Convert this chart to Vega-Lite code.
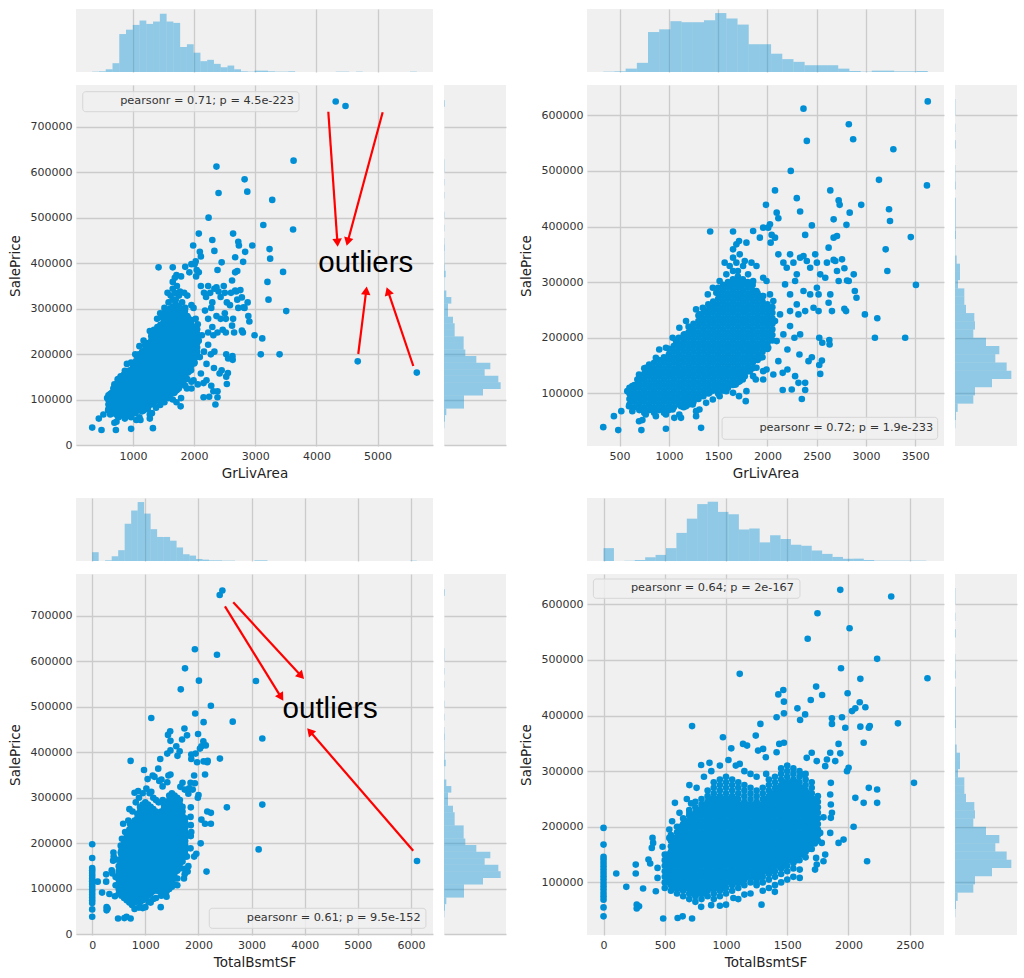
{
"$schema":"https://vega.github.io/schema/vega-lite/v6.json",
"padding":{"left":8,"top":9,"right":2,"bottom":2},
"background":"white",
"config":{
 "font":"DejaVu Sans",
 "view":{"fill":"#F0F0F0","stroke":null},
 "axis":{"domain":false,"ticks":false,"grid":true,"gridColor":"#CBCBCB","gridWidth":1.3,"labelFont":"DejaVu Sans","labelFontSize":11,"labelColor":"#333333","labelPadding":4,"labelFlush":false,"labelOverlap":false,"titleFont":"DejaVu Sans","titleFontSize":13.5,"titleFontWeight":"normal","titleColor":"#222222"},
 "axisX":{"titlePadding":5},
 "axisY":{"titlePadding":8}
},
"datasets":{
"grliv":[
{"sf":600,"price":80000},{"sf":600,"price":90000},{"sf":600,"price":100000},{"sf":600,"price":110000},
{"sf":650,"price":75000},{"sf":650,"price":85000},{"sf":650,"price":95000},{"sf":650,"price":105000},{"sf":650,"price":115000},
{"sf":700,"price":70000},{"sf":700,"price":80000},{"sf":700,"price":90000},{"sf":700,"price":100000},{"sf":700,"price":110000},{"sf":700,"price":120000},{"sf":700,"price":130000},
{"sf":750,"price":65000},{"sf":750,"price":75000},{"sf":750,"price":85000},{"sf":750,"price":95000},{"sf":750,"price":105000},{"sf":750,"price":115000},{"sf":750,"price":125000},{"sf":750,"price":135000},{"sf":750,"price":145000},
{"sf":800,"price":70000},{"sf":800,"price":80000},{"sf":800,"price":90000},{"sf":800,"price":100000},{"sf":800,"price":110000},{"sf":800,"price":120000},{"sf":800,"price":130000},{"sf":800,"price":140000},{"sf":800,"price":150000},
{"sf":850,"price":65000},{"sf":850,"price":75000},{"sf":850,"price":85000},{"sf":850,"price":95000},{"sf":850,"price":105000},{"sf":850,"price":115000},{"sf":850,"price":125000},{"sf":850,"price":135000},{"sf":850,"price":145000},{"sf":850,"price":155000},
{"sf":900,"price":70000},{"sf":900,"price":80000},{"sf":900,"price":90000},{"sf":900,"price":100000},{"sf":900,"price":110000},{"sf":900,"price":120000},{"sf":900,"price":130000},{"sf":900,"price":140000},{"sf":900,"price":150000},{"sf":900,"price":160000},
{"sf":950,"price":65000},{"sf":950,"price":75000},{"sf":950,"price":85000},{"sf":950,"price":95000},{"sf":950,"price":105000},{"sf":950,"price":115000},{"sf":950,"price":125000},{"sf":950,"price":135000},{"sf":950,"price":145000},{"sf":950,"price":155000},{"sf":950,"price":165000},
{"sf":1000,"price":70000},{"sf":1000,"price":80000},{"sf":1000,"price":90000},{"sf":1000,"price":100000},{"sf":1000,"price":110000},{"sf":1000,"price":120000},{"sf":1000,"price":130000},{"sf":1000,"price":140000},{"sf":1000,"price":150000},{"sf":1000,"price":160000},{"sf":1000,"price":170000},{"sf":1000,"price":180000},
{"sf":1050,"price":75000},{"sf":1050,"price":85000},{"sf":1050,"price":95000},{"sf":1050,"price":105000},{"sf":1050,"price":115000},{"sf":1050,"price":125000},{"sf":1050,"price":135000},{"sf":1050,"price":145000},{"sf":1050,"price":155000},{"sf":1050,"price":165000},{"sf":1050,"price":175000},{"sf":1050,"price":185000},
{"sf":1100,"price":80000},{"sf":1100,"price":90000},{"sf":1100,"price":100000},{"sf":1100,"price":110000},{"sf":1100,"price":120000},{"sf":1100,"price":130000},{"sf":1100,"price":140000},{"sf":1100,"price":150000},{"sf":1100,"price":160000},{"sf":1100,"price":170000},{"sf":1100,"price":180000},{"sf":1100,"price":190000},{"sf":1100,"price":200000},
{"sf":1150,"price":75000},{"sf":1150,"price":85000},{"sf":1150,"price":95000},{"sf":1150,"price":105000},{"sf":1150,"price":115000},{"sf":1150,"price":125000},{"sf":1150,"price":135000},{"sf":1150,"price":145000},{"sf":1150,"price":155000},{"sf":1150,"price":165000},{"sf":1150,"price":175000},{"sf":1150,"price":185000},{"sf":1150,"price":195000},{"sf":1150,"price":205000},
{"sf":1200,"price":80000},{"sf":1200,"price":90000},{"sf":1200,"price":100000},{"sf":1200,"price":110000},{"sf":1200,"price":120000},{"sf":1200,"price":130000},{"sf":1200,"price":140000},{"sf":1200,"price":150000},{"sf":1200,"price":160000},{"sf":1200,"price":170000},{"sf":1200,"price":180000},{"sf":1200,"price":190000},{"sf":1200,"price":200000},{"sf":1200,"price":210000},{"sf":1200,"price":220000},
{"sf":1250,"price":85000},{"sf":1250,"price":95000},{"sf":1250,"price":105000},{"sf":1250,"price":115000},{"sf":1250,"price":125000},{"sf":1250,"price":135000},{"sf":1250,"price":145000},{"sf":1250,"price":155000},{"sf":1250,"price":165000},{"sf":1250,"price":175000},{"sf":1250,"price":185000},{"sf":1250,"price":195000},{"sf":1250,"price":205000},{"sf":1250,"price":215000},{"sf":1250,"price":225000},
{"sf":1300,"price":90000},{"sf":1300,"price":100000},{"sf":1300,"price":110000},{"sf":1300,"price":120000},{"sf":1300,"price":130000},{"sf":1300,"price":140000},{"sf":1300,"price":150000},{"sf":1300,"price":160000},{"sf":1300,"price":170000},{"sf":1300,"price":180000},{"sf":1300,"price":190000},{"sf":1300,"price":200000},{"sf":1300,"price":210000},{"sf":1300,"price":220000},{"sf":1300,"price":230000},{"sf":1300,"price":240000},
{"sf":1350,"price":95000},{"sf":1350,"price":105000},{"sf":1350,"price":115000},{"sf":1350,"price":125000},{"sf":1350,"price":135000},{"sf":1350,"price":145000},{"sf":1350,"price":155000},{"sf":1350,"price":165000},{"sf":1350,"price":175000},{"sf":1350,"price":185000},{"sf":1350,"price":195000},{"sf":1350,"price":205000},{"sf":1350,"price":215000},{"sf":1350,"price":225000},{"sf":1350,"price":235000},{"sf":1350,"price":245000},
{"sf":1400,"price":100000},{"sf":1400,"price":110000},{"sf":1400,"price":120000},{"sf":1400,"price":130000},{"sf":1400,"price":140000},{"sf":1400,"price":150000},{"sf":1400,"price":160000},{"sf":1400,"price":170000},{"sf":1400,"price":180000},{"sf":1400,"price":190000},{"sf":1400,"price":200000},{"sf":1400,"price":210000},{"sf":1400,"price":220000},{"sf":1400,"price":230000},{"sf":1400,"price":240000},{"sf":1400,"price":250000},{"sf":1400,"price":260000},
{"sf":1450,"price":105000},{"sf":1450,"price":115000},{"sf":1450,"price":125000},{"sf":1450,"price":135000},{"sf":1450,"price":145000},{"sf":1450,"price":155000},{"sf":1450,"price":165000},{"sf":1450,"price":175000},{"sf":1450,"price":185000},{"sf":1450,"price":195000},{"sf":1450,"price":205000},{"sf":1450,"price":215000},{"sf":1450,"price":225000},{"sf":1450,"price":235000},{"sf":1450,"price":245000},{"sf":1450,"price":255000},{"sf":1450,"price":265000},
{"sf":1500,"price":100000},{"sf":1500,"price":110000},{"sf":1500,"price":120000},{"sf":1500,"price":130000},{"sf":1500,"price":140000},{"sf":1500,"price":150000},{"sf":1500,"price":160000},{"sf":1500,"price":170000},{"sf":1500,"price":180000},{"sf":1500,"price":190000},{"sf":1500,"price":200000},{"sf":1500,"price":210000},{"sf":1500,"price":220000},{"sf":1500,"price":230000},{"sf":1500,"price":240000},{"sf":1500,"price":250000},{"sf":1500,"price":260000},{"sf":1500,"price":270000},{"sf":1500,"price":280000},{"sf":1500,"price":290000},
{"sf":1550,"price":105000},{"sf":1550,"price":115000},{"sf":1550,"price":125000},{"sf":1550,"price":135000},{"sf":1550,"price":145000},{"sf":1550,"price":155000},{"sf":1550,"price":165000},{"sf":1550,"price":175000},{"sf":1550,"price":185000},{"sf":1550,"price":195000},{"sf":1550,"price":205000},{"sf":1550,"price":215000},{"sf":1550,"price":225000},{"sf":1550,"price":235000},{"sf":1550,"price":245000},{"sf":1550,"price":255000},{"sf":1550,"price":265000},{"sf":1550,"price":275000},{"sf":1550,"price":285000},{"sf":1550,"price":295000},
{"sf":1600,"price":110000},{"sf":1600,"price":120000},{"sf":1600,"price":130000},{"sf":1600,"price":140000},{"sf":1600,"price":150000},{"sf":1600,"price":160000},{"sf":1600,"price":170000},{"sf":1600,"price":180000},{"sf":1600,"price":190000},{"sf":1600,"price":200000},{"sf":1600,"price":210000},{"sf":1600,"price":220000},{"sf":1600,"price":230000},{"sf":1600,"price":240000},{"sf":1600,"price":250000},{"sf":1600,"price":260000},{"sf":1600,"price":270000},{"sf":1600,"price":280000},{"sf":1600,"price":290000},{"sf":1600,"price":300000},
{"sf":1650,"price":115000},{"sf":1650,"price":125000},{"sf":1650,"price":135000},{"sf":1650,"price":145000},{"sf":1650,"price":155000},{"sf":1650,"price":165000},{"sf":1650,"price":175000},{"sf":1650,"price":185000},{"sf":1650,"price":195000},{"sf":1650,"price":205000},{"sf":1650,"price":215000},{"sf":1650,"price":225000},{"sf":1650,"price":235000},{"sf":1650,"price":245000},{"sf":1650,"price":255000},{"sf":1650,"price":265000},{"sf":1650,"price":275000},{"sf":1650,"price":285000},{"sf":1650,"price":295000},{"sf":1650,"price":305000},
{"sf":1700,"price":120000},{"sf":1700,"price":130000},{"sf":1700,"price":140000},{"sf":1700,"price":150000},{"sf":1700,"price":160000},{"sf":1700,"price":170000},{"sf":1700,"price":180000},{"sf":1700,"price":190000},{"sf":1700,"price":200000},{"sf":1700,"price":210000},{"sf":1700,"price":220000},{"sf":1700,"price":230000},{"sf":1700,"price":240000},{"sf":1700,"price":250000},{"sf":1700,"price":260000},{"sf":1700,"price":270000},{"sf":1700,"price":280000},{"sf":1700,"price":290000},{"sf":1700,"price":300000},{"sf":1700,"price":310000},{"sf":1700,"price":320000},
{"sf":1750,"price":125000},{"sf":1750,"price":135000},{"sf":1750,"price":145000},{"sf":1750,"price":155000},{"sf":1750,"price":165000},{"sf":1750,"price":175000},{"sf":1750,"price":185000},{"sf":1750,"price":195000},{"sf":1750,"price":205000},{"sf":1750,"price":215000},{"sf":1750,"price":225000},{"sf":1750,"price":235000},{"sf":1750,"price":245000},{"sf":1750,"price":255000},{"sf":1750,"price":265000},{"sf":1750,"price":275000},{"sf":1750,"price":285000},{"sf":1750,"price":295000},{"sf":1750,"price":305000},
{"sf":1800,"price":140000},{"sf":1800,"price":150000},{"sf":1800,"price":160000},{"sf":1800,"price":170000},{"sf":1800,"price":180000},{"sf":1800,"price":190000},{"sf":1800,"price":200000},{"sf":1800,"price":210000},{"sf":1800,"price":220000},{"sf":1800,"price":230000},{"sf":1800,"price":240000},{"sf":1800,"price":250000},{"sf":1800,"price":260000},{"sf":1800,"price":270000},{"sf":1800,"price":280000},{"sf":1800,"price":290000},{"sf":1800,"price":300000},
{"sf":1850,"price":145000},{"sf":1850,"price":155000},{"sf":1850,"price":165000},{"sf":1850,"price":175000},{"sf":1850,"price":185000},{"sf":1850,"price":195000},{"sf":1850,"price":205000},{"sf":1850,"price":215000},{"sf":1850,"price":225000},{"sf":1850,"price":235000},{"sf":1850,"price":245000},{"sf":1850,"price":255000},{"sf":1850,"price":265000},{"sf":1850,"price":275000},{"sf":1850,"price":285000},{"sf":1850,"price":295000},
{"sf":1900,"price":160000},{"sf":1900,"price":170000},{"sf":1900,"price":180000},{"sf":1900,"price":190000},{"sf":1900,"price":200000},{"sf":1900,"price":210000},{"sf":1900,"price":220000},{"sf":1900,"price":230000},{"sf":1900,"price":240000},{"sf":1900,"price":250000},{"sf":1900,"price":260000},{"sf":1900,"price":270000},{"sf":1900,"price":280000},
{"sf":1950,"price":165000},{"sf":1950,"price":175000},{"sf":1950,"price":185000},{"sf":1950,"price":195000},{"sf":1950,"price":205000},{"sf":1950,"price":215000},{"sf":1950,"price":225000},{"sf":1950,"price":235000},{"sf":1950,"price":245000},{"sf":1950,"price":255000},{"sf":1950,"price":265000},{"sf":1950,"price":275000},
{"sf":2000,"price":180000},{"sf":2000,"price":190000},{"sf":2000,"price":200000},{"sf":2000,"price":210000},{"sf":2000,"price":220000},{"sf":2000,"price":230000},{"sf":2000,"price":240000},{"sf":2000,"price":250000},{"sf":2000,"price":260000},
{"sf":2050,"price":195000},{"sf":2050,"price":205000},{"sf":2050,"price":215000},{"sf":2050,"price":225000},{"sf":2050,"price":235000},{"sf":2050,"price":245000},{"sf":2050,"price":255000},
{"sf":334,"price":39300},{"sf":442,"price":59000},{"sf":486,"price":34000},{"sf":517,"price":68000},{"sf":721,"price":34000},{"sf":731,"price":52000},{"sf":970,"price":36500},{"sf":1327,"price":38000},{"sf":1276,"price":59000},{"sf":1419,"price":391000},{"sf":1651,"price":391000},{"sf":1985,"price":439000},{"sf":2077,"price":465000},{"sf":2237,"price":500000},{"sf":2366,"price":612000},{"sf":2400,"price":554000},{"sf":2298,"price":451000},{"sf":2332,"price":427000},{"sf":2451,"price":402000},{"sf":2383,"price":385000},{"sf":2094,"price":425000},{"sf":2111,"price":415000},{"sf":2638,"price":465000},{"sf":2723,"price":447000},{"sf":2733,"price":439000},{"sf":2835,"price":425000},{"sf":2802,"price":403000},{"sf":2672,"price":413000},{"sf":2826,"price":584000},{"sf":2870,"price":557000},{"sf":2952,"price":439000},{"sf":3132,"price":484000},{"sf":3234,"price":431000},{"sf":3244,"price":410000},{"sf":3278,"price":539000},{"sf":3455,"price":381000},{"sf":3200,"price":359000},{"sf":3217,"price":320000},{"sf":3507,"price":295000},{"sf":3627,"price":625000},{"sf":3619,"price":474000},{"sf":2989,"price":242000},{"sf":3091,"price":200000},{"sf":3115,"price":235000},{"sf":3398,"price":200000},{"sf":2887,"price":284000},{"sf":2904,"price":272000},{"sf":2808,"price":303000},{"sf":2723,"price":302000},{"sf":2781,"price":325000},{"sf":2672,"price":340000},{"sf":2781,"price":252000},{"sf":2798,"price":248000},{"sf":2628,"price":196000},{"sf":2631,"price":188000},{"sf":2557,"price":191000},{"sf":2526,"price":200000},{"sf":2553,"price":159000},{"sf":2526,"price":151000},{"sf":2536,"price":135000},{"sf":2451,"price":165000},{"sf":2417,"price":158000},{"sf":2325,"price":170000},{"sf":2274,"price":200000},{"sf":2203,"price":179000},{"sf":2203,"price":143000},{"sf":2281,"price":131000},{"sf":2315,"price":119000},{"sf":2383,"price":119000},{"sf":2383,"price":106000},{"sf":2247,"price":107000},{"sf":2155,"price":106000},{"sf":2349,"price":90000},{"sf":2155,"price":137000},{"sf":2111,"price":158000},{"sf":2060,"price":134000},{"sf":1991,"price":143000},{"sf":1957,"price":125000},{"sf":1882,"price":125000},{"sf":1780,"price":86000},{"sf":1787,"price":104000},{"sf":1712,"price":95000},{"sf":1678,"price":116000},
{"sf":1685,"price":368000},{"sf":1712,"price":374000},{"sf":1787,"price":371000},{"sf":1855,"price":392000},{"sf":1923,"price":380000},{"sf":1957,"price":398000},{"sf":2008,"price":398000},{"sf":2026,"price":404000},{"sf":2043,"price":385000},{"sf":2077,"price":380000},{"sf":2033,"price":371000},{"sf":1770,"price":338000},{"sf":1838,"price":335000},{"sf":1889,"price":329000},{"sf":1651,"price":320000},{"sf":1617,"price":296000},{"sf":1719,"price":302000},{"sf":1804,"price":314000},{"sf":1855,"price":302000},{"sf":1957,"price":308000},{"sf":1991,"price":302000},{"sf":1889,"price":284000},{"sf":1957,"price":275000},{"sf":2026,"price":278000},{"sf":2060,"price":266000},{"sf":2111,"price":350000},{"sf":2162,"price":335000},{"sf":2196,"price":326000},{"sf":2230,"price":350000},{"sf":2264,"price":335000},{"sf":2298,"price":314000},{"sf":2179,"price":296000},{"sf":2230,"price":278000},{"sf":2281,"price":302000},{"sf":2332,"price":344000},{"sf":2366,"price":347000},{"sf":2400,"price":338000},{"sf":2434,"price":326000},{"sf":2485,"price":350000},{"sf":2502,"price":335000},{"sf":2536,"price":314000},{"sf":2587,"price":308000},{"sf":2604,"price":335000},{"sf":2621,"price":362000},{"sf":2672,"price":380000},{"sf":2706,"price":383000},{"sf":2689,"price":338000},{"sf":2706,"price":320000},{"sf":2757,"price":341000},{"sf":2825,"price":302000},{"sf":2876,"price":314000},{"sf":2502,"price":290000},{"sf":2519,"price":278000},{"sf":2434,"price":278000},{"sf":2366,"price":284000},{"sf":2298,"price":260000},{"sf":2230,"price":248000},{"sf":2315,"price":242000},{"sf":2383,"price":248000},{"sf":2468,"price":254000},{"sf":2519,"price":248000},{"sf":2621,"price":263000},{"sf":2655,"price":248000},{"sf":2638,"price":278000},{"sf":2332,"price":206000},{"sf":2230,"price":221000},{"sf":2128,"price":242000},{"sf":2162,"price":206000},{"sf":2094,"price":194000},{"sf":2026,"price":206000},{"sf":2077,"price":230000},{"sf":1991,"price":230000},{"sf":2008,"price":182000},{"sf":1923,"price":164000},{"sf":1855,"price":158000},{"sf":1889,"price":182000},{"sf":1814,"price":170000},{"sf":1794,"price":188000},{"sf":1481,"price":281000},{"sf":1395,"price":278000},{"sf":1446,"price":290000},{"sf":1515,"price":302000},{"sf":1583,"price":314000},{"sf":1617,"price":329000},{"sf":1651,"price":344000},{"sf":1719,"price":350000},{"sf":1753,"price":329000},{"sf":1566,"price":335000},{"sf":1651,"price":359000},{"sf":1685,"price":335000},
{"sf":1276,"price":251000},{"sf":1310,"price":242000},{"sf":1344,"price":254000},{"sf":1378,"price":248000},{"sf":1174,"price":230000},{"sf":1106,"price":218000},{"sf":1072,"price":194000},{"sf":970,"price":182000},{"sf":868,"price":164000},{"sf":800,"price":152000},{"sf":765,"price":146000},{"sf":697,"price":134000},{"sf":1225,"price":218000},{"sf":1157,"price":206000},{"sf":1038,"price":200000},{"sf":902,"price":179000},
{"sf":1310,"price":71000},{"sf":1378,"price":83000},{"sf":1446,"price":89000},{"sf":1515,"price":95000},{"sf":1583,"price":104000},{"sf":1651,"price":101000},{"sf":1668,"price":116000},{"sf":1719,"price":122000},{"sf":1770,"price":131000},{"sf":1821,"price":140000},{"sf":1889,"price":146000},{"sf":1957,"price":140000},{"sf":1855,"price":131000},{"sf":1481,"price":110000},{"sf":1412,"price":101000},{"sf":1242,"price":80000},{"sf":1174,"price":77000},{"sf":1106,"price":62000},{"sf":1038,"price":71000},{"sf":953,"price":68000},{"sf":868,"price":59000},{"sf":817,"price":71000},{"sf":765,"price":62000},{"sf":697,"price":50000},{"sf":629,"price":68000},{"sf":595,"price":77000},{"sf":612,"price":92000},{"sf":663,"price":98000},{"sf":578,"price":104000},{"sf":629,"price":113000},{"sf":680,"price":125000},{"sf":970,"price":62000},{"sf":1055,"price":56000},{"sf":1123,"price":56000},{"sf":1276,"price":68000},{"sf":1123,"price":77000},
{"sf":4316,"price":755000},{"sf":4476,"price":745000},{"sf":4676,"price":184750},{"sf":5642,"price":160000}
],
"bsmt":[
{"sf":500,"price":90000},{"sf":500,"price":100000},{"sf":500,"price":110000},{"sf":500,"price":120000},{"sf":500,"price":130000},{"sf":500,"price":140000},{"sf":500,"price":150000},
{"sf":550,"price":85000},{"sf":550,"price":95000},{"sf":550,"price":105000},{"sf":550,"price":115000},{"sf":550,"price":125000},{"sf":550,"price":135000},{"sf":550,"price":145000},{"sf":550,"price":155000},{"sf":550,"price":165000},{"sf":550,"price":175000},{"sf":550,"price":185000},
{"sf":600,"price":80000},{"sf":600,"price":90000},{"sf":600,"price":100000},{"sf":600,"price":110000},{"sf":600,"price":120000},{"sf":600,"price":130000},{"sf":600,"price":140000},{"sf":600,"price":150000},{"sf":600,"price":160000},{"sf":600,"price":170000},{"sf":600,"price":180000},{"sf":600,"price":190000},{"sf":600,"price":200000},
{"sf":650,"price":75000},{"sf":650,"price":85000},{"sf":650,"price":95000},{"sf":650,"price":105000},{"sf":650,"price":115000},{"sf":650,"price":125000},{"sf":650,"price":135000},{"sf":650,"price":145000},{"sf":650,"price":155000},{"sf":650,"price":165000},{"sf":650,"price":175000},{"sf":650,"price":185000},{"sf":650,"price":195000},{"sf":650,"price":205000},{"sf":650,"price":215000},
{"sf":700,"price":70000},{"sf":700,"price":80000},{"sf":700,"price":90000},{"sf":700,"price":100000},{"sf":700,"price":110000},{"sf":700,"price":120000},{"sf":700,"price":130000},{"sf":700,"price":140000},{"sf":700,"price":150000},{"sf":700,"price":160000},{"sf":700,"price":170000},{"sf":700,"price":180000},{"sf":700,"price":190000},{"sf":700,"price":200000},{"sf":700,"price":210000},{"sf":700,"price":220000},{"sf":700,"price":230000},
{"sf":750,"price":65000},{"sf":750,"price":75000},{"sf":750,"price":85000},{"sf":750,"price":95000},{"sf":750,"price":105000},{"sf":750,"price":115000},{"sf":750,"price":125000},{"sf":750,"price":135000},{"sf":750,"price":145000},{"sf":750,"price":155000},{"sf":750,"price":165000},{"sf":750,"price":175000},{"sf":750,"price":185000},{"sf":750,"price":195000},{"sf":750,"price":205000},{"sf":750,"price":215000},{"sf":750,"price":225000},{"sf":750,"price":235000},{"sf":750,"price":245000},
{"sf":800,"price":70000},{"sf":800,"price":80000},{"sf":800,"price":90000},{"sf":800,"price":100000},{"sf":800,"price":110000},{"sf":800,"price":120000},{"sf":800,"price":130000},{"sf":800,"price":140000},{"sf":800,"price":150000},{"sf":800,"price":160000},{"sf":800,"price":170000},{"sf":800,"price":180000},{"sf":800,"price":190000},{"sf":800,"price":200000},{"sf":800,"price":210000},{"sf":800,"price":220000},{"sf":800,"price":230000},{"sf":800,"price":240000},{"sf":800,"price":250000},
{"sf":850,"price":75000},{"sf":850,"price":85000},{"sf":850,"price":95000},{"sf":850,"price":105000},{"sf":850,"price":115000},{"sf":850,"price":125000},{"sf":850,"price":135000},{"sf":850,"price":145000},{"sf":850,"price":155000},{"sf":850,"price":165000},{"sf":850,"price":175000},{"sf":850,"price":185000},{"sf":850,"price":195000},{"sf":850,"price":205000},{"sf":850,"price":215000},{"sf":850,"price":225000},{"sf":850,"price":235000},{"sf":850,"price":245000},{"sf":850,"price":255000},{"sf":850,"price":265000},
{"sf":900,"price":70000},{"sf":900,"price":80000},{"sf":900,"price":90000},{"sf":900,"price":100000},{"sf":900,"price":110000},{"sf":900,"price":120000},{"sf":900,"price":130000},{"sf":900,"price":140000},{"sf":900,"price":150000},{"sf":900,"price":160000},{"sf":900,"price":170000},{"sf":900,"price":180000},{"sf":900,"price":190000},{"sf":900,"price":200000},{"sf":900,"price":210000},{"sf":900,"price":220000},{"sf":900,"price":230000},{"sf":900,"price":240000},{"sf":900,"price":250000},{"sf":900,"price":260000},{"sf":900,"price":270000},{"sf":900,"price":280000},
{"sf":950,"price":75000},{"sf":950,"price":85000},{"sf":950,"price":95000},{"sf":950,"price":105000},{"sf":950,"price":115000},{"sf":950,"price":125000},{"sf":950,"price":135000},{"sf":950,"price":145000},{"sf":950,"price":155000},{"sf":950,"price":165000},{"sf":950,"price":175000},{"sf":950,"price":185000},{"sf":950,"price":195000},{"sf":950,"price":205000},{"sf":950,"price":215000},{"sf":950,"price":225000},{"sf":950,"price":235000},{"sf":950,"price":245000},{"sf":950,"price":255000},{"sf":950,"price":265000},{"sf":950,"price":275000},{"sf":950,"price":285000},
{"sf":1000,"price":80000},{"sf":1000,"price":90000},{"sf":1000,"price":100000},{"sf":1000,"price":110000},{"sf":1000,"price":120000},{"sf":1000,"price":130000},{"sf":1000,"price":140000},{"sf":1000,"price":150000},{"sf":1000,"price":160000},{"sf":1000,"price":170000},{"sf":1000,"price":180000},{"sf":1000,"price":190000},{"sf":1000,"price":200000},{"sf":1000,"price":210000},{"sf":1000,"price":220000},{"sf":1000,"price":230000},{"sf":1000,"price":240000},{"sf":1000,"price":250000},{"sf":1000,"price":260000},{"sf":1000,"price":270000},{"sf":1000,"price":280000},{"sf":1000,"price":290000},
{"sf":1050,"price":85000},{"sf":1050,"price":95000},{"sf":1050,"price":105000},{"sf":1050,"price":115000},{"sf":1050,"price":125000},{"sf":1050,"price":135000},{"sf":1050,"price":145000},{"sf":1050,"price":155000},{"sf":1050,"price":165000},{"sf":1050,"price":175000},{"sf":1050,"price":185000},{"sf":1050,"price":195000},{"sf":1050,"price":205000},{"sf":1050,"price":215000},{"sf":1050,"price":225000},{"sf":1050,"price":235000},{"sf":1050,"price":245000},{"sf":1050,"price":255000},{"sf":1050,"price":265000},{"sf":1050,"price":275000},{"sf":1050,"price":285000},
{"sf":1100,"price":90000},{"sf":1100,"price":100000},{"sf":1100,"price":110000},{"sf":1100,"price":120000},{"sf":1100,"price":130000},{"sf":1100,"price":140000},{"sf":1100,"price":150000},{"sf":1100,"price":160000},{"sf":1100,"price":170000},{"sf":1100,"price":180000},{"sf":1100,"price":190000},{"sf":1100,"price":200000},{"sf":1100,"price":210000},{"sf":1100,"price":220000},{"sf":1100,"price":230000},{"sf":1100,"price":240000},{"sf":1100,"price":250000},{"sf":1100,"price":260000},{"sf":1100,"price":270000},{"sf":1100,"price":280000},
{"sf":1150,"price":95000},{"sf":1150,"price":105000},{"sf":1150,"price":115000},{"sf":1150,"price":125000},{"sf":1150,"price":135000},{"sf":1150,"price":145000},{"sf":1150,"price":155000},{"sf":1150,"price":165000},{"sf":1150,"price":175000},{"sf":1150,"price":185000},{"sf":1150,"price":195000},{"sf":1150,"price":205000},{"sf":1150,"price":215000},{"sf":1150,"price":225000},{"sf":1150,"price":235000},{"sf":1150,"price":245000},{"sf":1150,"price":255000},{"sf":1150,"price":265000},{"sf":1150,"price":275000},
{"sf":1200,"price":100000},{"sf":1200,"price":110000},{"sf":1200,"price":120000},{"sf":1200,"price":130000},{"sf":1200,"price":140000},{"sf":1200,"price":150000},{"sf":1200,"price":160000},{"sf":1200,"price":170000},{"sf":1200,"price":180000},{"sf":1200,"price":190000},{"sf":1200,"price":200000},{"sf":1200,"price":210000},{"sf":1200,"price":220000},{"sf":1200,"price":230000},{"sf":1200,"price":240000},{"sf":1200,"price":250000},{"sf":1200,"price":260000},{"sf":1200,"price":270000},
{"sf":1250,"price":95000},{"sf":1250,"price":105000},{"sf":1250,"price":115000},{"sf":1250,"price":125000},{"sf":1250,"price":135000},{"sf":1250,"price":145000},{"sf":1250,"price":155000},{"sf":1250,"price":165000},{"sf":1250,"price":175000},{"sf":1250,"price":185000},{"sf":1250,"price":195000},{"sf":1250,"price":205000},{"sf":1250,"price":215000},{"sf":1250,"price":225000},{"sf":1250,"price":235000},{"sf":1250,"price":245000},{"sf":1250,"price":255000},{"sf":1250,"price":265000},
{"sf":1300,"price":100000},{"sf":1300,"price":110000},{"sf":1300,"price":120000},{"sf":1300,"price":130000},{"sf":1300,"price":140000},{"sf":1300,"price":150000},{"sf":1300,"price":160000},{"sf":1300,"price":170000},{"sf":1300,"price":180000},{"sf":1300,"price":190000},{"sf":1300,"price":200000},{"sf":1300,"price":210000},{"sf":1300,"price":220000},{"sf":1300,"price":230000},{"sf":1300,"price":240000},{"sf":1300,"price":250000},{"sf":1300,"price":260000},{"sf":1300,"price":270000},
{"sf":1350,"price":105000},{"sf":1350,"price":115000},{"sf":1350,"price":125000},{"sf":1350,"price":135000},{"sf":1350,"price":145000},{"sf":1350,"price":155000},{"sf":1350,"price":165000},{"sf":1350,"price":175000},{"sf":1350,"price":185000},{"sf":1350,"price":195000},{"sf":1350,"price":205000},{"sf":1350,"price":215000},{"sf":1350,"price":225000},{"sf":1350,"price":235000},{"sf":1350,"price":245000},{"sf":1350,"price":255000},{"sf":1350,"price":265000},{"sf":1350,"price":275000},{"sf":1350,"price":285000},
{"sf":1400,"price":110000},{"sf":1400,"price":120000},{"sf":1400,"price":130000},{"sf":1400,"price":140000},{"sf":1400,"price":150000},{"sf":1400,"price":160000},{"sf":1400,"price":170000},{"sf":1400,"price":180000},{"sf":1400,"price":190000},{"sf":1400,"price":200000},{"sf":1400,"price":210000},{"sf":1400,"price":220000},{"sf":1400,"price":230000},{"sf":1400,"price":240000},{"sf":1400,"price":250000},{"sf":1400,"price":260000},{"sf":1400,"price":270000},{"sf":1400,"price":280000},{"sf":1400,"price":290000},
{"sf":1450,"price":115000},{"sf":1450,"price":125000},{"sf":1450,"price":135000},{"sf":1450,"price":145000},{"sf":1450,"price":155000},{"sf":1450,"price":165000},{"sf":1450,"price":175000},{"sf":1450,"price":185000},{"sf":1450,"price":195000},{"sf":1450,"price":205000},{"sf":1450,"price":215000},{"sf":1450,"price":225000},{"sf":1450,"price":235000},{"sf":1450,"price":245000},{"sf":1450,"price":255000},{"sf":1450,"price":265000},{"sf":1450,"price":275000},{"sf":1450,"price":285000},{"sf":1450,"price":295000},{"sf":1450,"price":305000},
{"sf":1500,"price":120000},{"sf":1500,"price":130000},{"sf":1500,"price":140000},{"sf":1500,"price":150000},{"sf":1500,"price":160000},{"sf":1500,"price":170000},{"sf":1500,"price":180000},{"sf":1500,"price":190000},{"sf":1500,"price":200000},{"sf":1500,"price":210000},{"sf":1500,"price":220000},{"sf":1500,"price":230000},{"sf":1500,"price":240000},{"sf":1500,"price":250000},{"sf":1500,"price":260000},{"sf":1500,"price":270000},{"sf":1500,"price":280000},{"sf":1500,"price":290000},{"sf":1500,"price":300000},{"sf":1500,"price":310000},
{"sf":1550,"price":125000},{"sf":1550,"price":135000},{"sf":1550,"price":145000},{"sf":1550,"price":155000},{"sf":1550,"price":165000},{"sf":1550,"price":175000},{"sf":1550,"price":185000},{"sf":1550,"price":195000},{"sf":1550,"price":205000},{"sf":1550,"price":215000},{"sf":1550,"price":225000},{"sf":1550,"price":235000},{"sf":1550,"price":245000},{"sf":1550,"price":255000},{"sf":1550,"price":265000},{"sf":1550,"price":275000},{"sf":1550,"price":285000},{"sf":1550,"price":295000},{"sf":1550,"price":305000},
{"sf":1600,"price":140000},{"sf":1600,"price":150000},{"sf":1600,"price":160000},{"sf":1600,"price":170000},{"sf":1600,"price":180000},{"sf":1600,"price":190000},{"sf":1600,"price":200000},{"sf":1600,"price":210000},{"sf":1600,"price":220000},{"sf":1600,"price":230000},{"sf":1600,"price":240000},{"sf":1600,"price":250000},{"sf":1600,"price":260000},{"sf":1600,"price":270000},{"sf":1600,"price":280000},{"sf":1600,"price":290000},{"sf":1600,"price":300000},
{"sf":1650,"price":145000},{"sf":1650,"price":155000},{"sf":1650,"price":165000},{"sf":1650,"price":175000},{"sf":1650,"price":185000},{"sf":1650,"price":195000},{"sf":1650,"price":205000},{"sf":1650,"price":215000},{"sf":1650,"price":225000},{"sf":1650,"price":235000},{"sf":1650,"price":245000},{"sf":1650,"price":255000},{"sf":1650,"price":265000},{"sf":1650,"price":275000},{"sf":1650,"price":285000},{"sf":1650,"price":295000},
{"sf":1700,"price":160000},{"sf":1700,"price":170000},{"sf":1700,"price":180000},{"sf":1700,"price":190000},{"sf":1700,"price":200000},{"sf":1700,"price":210000},{"sf":1700,"price":220000},{"sf":1700,"price":230000},{"sf":1700,"price":240000},{"sf":1700,"price":250000},{"sf":1700,"price":260000},{"sf":1700,"price":270000},{"sf":1700,"price":280000},
{"sf":1750,"price":175000},{"sf":1750,"price":185000},{"sf":1750,"price":195000},{"sf":1750,"price":205000},{"sf":1750,"price":215000},{"sf":1750,"price":225000},{"sf":1750,"price":235000},{"sf":1750,"price":245000},{"sf":1750,"price":255000},
{"sf":525,"price":100000},{"sf":525,"price":110000},{"sf":525,"price":120000},{"sf":525,"price":130000},{"sf":525,"price":140000},{"sf":525,"price":150000},
{"sf":575,"price":90000},{"sf":575,"price":100000},{"sf":575,"price":110000},{"sf":575,"price":120000},{"sf":575,"price":130000},{"sf":575,"price":140000},{"sf":575,"price":150000},{"sf":575,"price":160000},{"sf":575,"price":170000},{"sf":575,"price":180000},
{"sf":625,"price":90000},{"sf":625,"price":100000},{"sf":625,"price":110000},{"sf":625,"price":120000},{"sf":625,"price":130000},{"sf":625,"price":140000},{"sf":625,"price":150000},{"sf":625,"price":160000},{"sf":625,"price":170000},{"sf":625,"price":180000},{"sf":625,"price":190000},{"sf":625,"price":200000},
{"sf":675,"price":90000},{"sf":675,"price":100000},{"sf":675,"price":110000},{"sf":675,"price":120000},{"sf":675,"price":130000},{"sf":675,"price":140000},{"sf":675,"price":150000},{"sf":675,"price":160000},{"sf":675,"price":170000},{"sf":675,"price":180000},{"sf":675,"price":190000},{"sf":675,"price":200000},{"sf":675,"price":210000},
{"sf":725,"price":80000},{"sf":725,"price":90000},{"sf":725,"price":100000},{"sf":725,"price":110000},{"sf":725,"price":120000},{"sf":725,"price":130000},{"sf":725,"price":140000},{"sf":725,"price":150000},{"sf":725,"price":160000},{"sf":725,"price":170000},{"sf":725,"price":180000},{"sf":725,"price":190000},{"sf":725,"price":200000},{"sf":725,"price":210000},{"sf":725,"price":220000},
{"sf":775,"price":80000},{"sf":775,"price":90000},{"sf":775,"price":100000},{"sf":775,"price":110000},{"sf":775,"price":120000},{"sf":775,"price":130000},{"sf":775,"price":140000},{"sf":775,"price":150000},{"sf":775,"price":160000},{"sf":775,"price":170000},{"sf":775,"price":180000},{"sf":775,"price":190000},{"sf":775,"price":200000},{"sf":775,"price":210000},{"sf":775,"price":220000},{"sf":775,"price":230000},
{"sf":825,"price":80000},{"sf":825,"price":90000},{"sf":825,"price":100000},{"sf":825,"price":110000},{"sf":825,"price":120000},{"sf":825,"price":130000},{"sf":825,"price":140000},{"sf":825,"price":150000},{"sf":825,"price":160000},{"sf":825,"price":170000},{"sf":825,"price":180000},{"sf":825,"price":190000},{"sf":825,"price":200000},{"sf":825,"price":210000},{"sf":825,"price":220000},{"sf":825,"price":230000},{"sf":825,"price":240000},
{"sf":875,"price":90000},{"sf":875,"price":100000},{"sf":875,"price":110000},{"sf":875,"price":120000},{"sf":875,"price":130000},{"sf":875,"price":140000},{"sf":875,"price":150000},{"sf":875,"price":160000},{"sf":875,"price":170000},{"sf":875,"price":180000},{"sf":875,"price":190000},{"sf":875,"price":200000},{"sf":875,"price":210000},{"sf":875,"price":220000},{"sf":875,"price":230000},{"sf":875,"price":240000},{"sf":875,"price":250000},
{"sf":925,"price":90000},{"sf":925,"price":100000},{"sf":925,"price":110000},{"sf":925,"price":120000},{"sf":925,"price":130000},{"sf":925,"price":140000},{"sf":925,"price":150000},{"sf":925,"price":160000},{"sf":925,"price":170000},{"sf":925,"price":180000},{"sf":925,"price":190000},{"sf":925,"price":200000},{"sf":925,"price":210000},{"sf":925,"price":220000},{"sf":925,"price":230000},{"sf":925,"price":240000},{"sf":925,"price":250000},
{"sf":975,"price":90000},{"sf":975,"price":100000},{"sf":975,"price":110000},{"sf":975,"price":120000},{"sf":975,"price":130000},{"sf":975,"price":140000},{"sf":975,"price":150000},{"sf":975,"price":160000},{"sf":975,"price":170000},{"sf":975,"price":180000},{"sf":975,"price":190000},{"sf":975,"price":200000},{"sf":975,"price":210000},{"sf":975,"price":220000},{"sf":975,"price":230000},{"sf":975,"price":240000},{"sf":975,"price":250000},
{"sf":1025,"price":100000},{"sf":1025,"price":110000},{"sf":1025,"price":120000},{"sf":1025,"price":130000},{"sf":1025,"price":140000},{"sf":1025,"price":150000},{"sf":1025,"price":160000},{"sf":1025,"price":170000},{"sf":1025,"price":180000},{"sf":1025,"price":190000},{"sf":1025,"price":200000},{"sf":1025,"price":210000},{"sf":1025,"price":220000},{"sf":1025,"price":230000},{"sf":1025,"price":240000},{"sf":1025,"price":250000},
{"sf":1075,"price":100000},{"sf":1075,"price":110000},{"sf":1075,"price":120000},{"sf":1075,"price":130000},{"sf":1075,"price":140000},{"sf":1075,"price":150000},{"sf":1075,"price":160000},{"sf":1075,"price":170000},{"sf":1075,"price":180000},{"sf":1075,"price":190000},{"sf":1075,"price":200000},{"sf":1075,"price":210000},{"sf":1075,"price":220000},{"sf":1075,"price":230000},{"sf":1075,"price":240000},{"sf":1075,"price":250000},
{"sf":1125,"price":100000},{"sf":1125,"price":110000},{"sf":1125,"price":120000},{"sf":1125,"price":130000},{"sf":1125,"price":140000},{"sf":1125,"price":150000},{"sf":1125,"price":160000},{"sf":1125,"price":170000},{"sf":1125,"price":180000},{"sf":1125,"price":190000},{"sf":1125,"price":200000},{"sf":1125,"price":210000},{"sf":1125,"price":220000},{"sf":1125,"price":230000},{"sf":1125,"price":240000},
{"sf":1175,"price":110000},{"sf":1175,"price":120000},{"sf":1175,"price":130000},{"sf":1175,"price":140000},{"sf":1175,"price":150000},{"sf":1175,"price":160000},{"sf":1175,"price":170000},{"sf":1175,"price":180000},{"sf":1175,"price":190000},{"sf":1175,"price":200000},{"sf":1175,"price":210000},{"sf":1175,"price":220000},{"sf":1175,"price":230000},{"sf":1175,"price":240000},
{"sf":1225,"price":110000},{"sf":1225,"price":120000},{"sf":1225,"price":130000},{"sf":1225,"price":140000},{"sf":1225,"price":150000},{"sf":1225,"price":160000},{"sf":1225,"price":170000},{"sf":1225,"price":180000},{"sf":1225,"price":190000},{"sf":1225,"price":200000},{"sf":1225,"price":210000},{"sf":1225,"price":220000},{"sf":1225,"price":230000},{"sf":1225,"price":240000},
{"sf":1275,"price":110000},{"sf":1275,"price":120000},{"sf":1275,"price":130000},{"sf":1275,"price":140000},{"sf":1275,"price":150000},{"sf":1275,"price":160000},{"sf":1275,"price":170000},{"sf":1275,"price":180000},{"sf":1275,"price":190000},{"sf":1275,"price":200000},{"sf":1275,"price":210000},{"sf":1275,"price":220000},{"sf":1275,"price":230000},{"sf":1275,"price":240000},
{"sf":1325,"price":120000},{"sf":1325,"price":130000},{"sf":1325,"price":140000},{"sf":1325,"price":150000},{"sf":1325,"price":160000},{"sf":1325,"price":170000},{"sf":1325,"price":180000},{"sf":1325,"price":190000},{"sf":1325,"price":200000},{"sf":1325,"price":210000},{"sf":1325,"price":220000},{"sf":1325,"price":230000},{"sf":1325,"price":240000},{"sf":1325,"price":250000},
{"sf":1375,"price":120000},{"sf":1375,"price":130000},{"sf":1375,"price":140000},{"sf":1375,"price":150000},{"sf":1375,"price":160000},{"sf":1375,"price":170000},{"sf":1375,"price":180000},{"sf":1375,"price":190000},{"sf":1375,"price":200000},{"sf":1375,"price":210000},{"sf":1375,"price":220000},{"sf":1375,"price":230000},{"sf":1375,"price":240000},{"sf":1375,"price":250000},{"sf":1375,"price":260000},
{"sf":1425,"price":130000},{"sf":1425,"price":140000},{"sf":1425,"price":150000},{"sf":1425,"price":160000},{"sf":1425,"price":170000},{"sf":1425,"price":180000},{"sf":1425,"price":190000},{"sf":1425,"price":200000},{"sf":1425,"price":210000},{"sf":1425,"price":220000},{"sf":1425,"price":230000},{"sf":1425,"price":240000},{"sf":1425,"price":250000},{"sf":1425,"price":260000},{"sf":1425,"price":270000},
{"sf":1475,"price":130000},{"sf":1475,"price":140000},{"sf":1475,"price":150000},{"sf":1475,"price":160000},{"sf":1475,"price":170000},{"sf":1475,"price":180000},{"sf":1475,"price":190000},{"sf":1475,"price":200000},{"sf":1475,"price":210000},{"sf":1475,"price":220000},{"sf":1475,"price":230000},{"sf":1475,"price":240000},{"sf":1475,"price":250000},{"sf":1475,"price":260000},{"sf":1475,"price":270000},{"sf":1475,"price":280000},
{"sf":1525,"price":140000},{"sf":1525,"price":150000},{"sf":1525,"price":160000},{"sf":1525,"price":170000},{"sf":1525,"price":180000},{"sf":1525,"price":190000},{"sf":1525,"price":200000},{"sf":1525,"price":210000},{"sf":1525,"price":220000},{"sf":1525,"price":230000},{"sf":1525,"price":240000},{"sf":1525,"price":250000},{"sf":1525,"price":260000},{"sf":1525,"price":270000},{"sf":1525,"price":280000},
{"sf":1575,"price":140000},{"sf":1575,"price":150000},{"sf":1575,"price":160000},{"sf":1575,"price":170000},{"sf":1575,"price":180000},{"sf":1575,"price":190000},{"sf":1575,"price":200000},{"sf":1575,"price":210000},{"sf":1575,"price":220000},{"sf":1575,"price":230000},{"sf":1575,"price":240000},{"sf":1575,"price":250000},{"sf":1575,"price":260000},{"sf":1575,"price":270000},{"sf":1575,"price":280000},
{"sf":1625,"price":150000},{"sf":1625,"price":160000},{"sf":1625,"price":170000},{"sf":1625,"price":180000},{"sf":1625,"price":190000},{"sf":1625,"price":200000},{"sf":1625,"price":210000},{"sf":1625,"price":220000},{"sf":1625,"price":230000},{"sf":1625,"price":240000},{"sf":1625,"price":250000},{"sf":1625,"price":260000},{"sf":1625,"price":270000},
{"sf":1675,"price":160000},{"sf":1675,"price":170000},{"sf":1675,"price":180000},{"sf":1675,"price":190000},{"sf":1675,"price":200000},{"sf":1675,"price":210000},{"sf":1675,"price":220000},{"sf":1675,"price":230000},{"sf":1675,"price":240000},{"sf":1675,"price":250000},{"sf":1675,"price":260000},
{"sf":1725,"price":170000},{"sf":1725,"price":180000},{"sf":1725,"price":190000},{"sf":1725,"price":200000},{"sf":1725,"price":210000},{"sf":1725,"price":220000},{"sf":1725,"price":230000},{"sf":1725,"price":240000},{"sf":1725,"price":250000},
{"sf":0,"price":39000},{"sf":0,"price":55000},{"sf":0,"price":69000},{"sf":0,"price":75000},{"sf":0,"price":81000},{"sf":0,"price":87000},{"sf":0,"price":93000},{"sf":0,"price":99000},{"sf":0,"price":105000},{"sf":0,"price":111000},{"sf":0,"price":117000},{"sf":0,"price":123000},{"sf":0,"price":129000},{"sf":0,"price":135000},{"sf":0,"price":141000},{"sf":0,"price":146000},{"sf":0,"price":168000},{"sf":0,"price":198000},
{"sf":104,"price":116000},{"sf":186,"price":92000},{"sf":263,"price":132000},{"sf":263,"price":116000},{"sf":271,"price":60000},{"sf":271,"price":53000},{"sf":290,"price":57000},{"sf":323,"price":89000},{"sf":367,"price":141000},{"sf":381,"price":134000},{"sf":400,"price":180000},{"sf":405,"price":171000},{"sf":394,"price":162000},{"sf":427,"price":84000},{"sf":441,"price":108000},{"sf":441,"price":126000},{"sf":482,"price":164000},{"sf":487,"price":35000},{"sf":537,"price":195000},{"sf":537,"price":180000},{"sf":583,"price":243000},{"sf":605,"price":36000},{"sf":646,"price":39000},{"sf":619,"price":198000},{"sf":701,"price":275000},{"sf":715,"price":242000},{"sf":723,"price":35000},{"sf":701,"price":225000},{"sf":723,"price":381000},{"sf":797,"price":311000},{"sf":865,"price":315000},{"sf":797,"price":56000},{"sf":879,"price":59000},{"sf":975,"price":361000},{"sf":1043,"price":341000},{"sf":1112,"price":475000},{"sf":1112,"price":313000},{"sf":1139,"price":349000},{"sf":1172,"price":346000},{"sf":1243,"price":364000},{"sf":1262,"price":337000},{"sf":1303,"price":340000},{"sf":1325,"price":325000},{"sf":1281,"price":385000},{"sf":1328,"price":295000},{"sf":1290,"price":60000},{"sf":1249,"price":99000},{"sf":1399,"price":83000},{"sf":1413,"price":397000},{"sf":1427,"price":438000},{"sf":1468,"price":446000},{"sf":1473,"price":425000},{"sf":1473,"price":404000},{"sf":1435,"price":349000},{"sf":1473,"price":351000},{"sf":1413,"price":334000},{"sf":1583,"price":413000},{"sf":1605,"price":392000},{"sf":1646,"price":402000},{"sf":1667,"price":538000},{"sf":1692,"price":428000},{"sf":1736,"price":452000},{"sf":1747,"price":584000},{"sf":1785,"price":437000},{"sf":1933,"price":626000},{"sf":1939,"price":485000},{"sf":1865,"price":395000},{"sf":1865,"price":385000},{"sf":1947,"price":397000},{"sf":1993,"price":440000},{"sf":2009,"price":557000},{"sf":2029,"price":408000},{"sf":2056,"price":413000},{"sf":2097,"price":466000},{"sf":2092,"price":424000},{"sf":2138,"price":415000},{"sf":2166,"price":378000},{"sf":2124,"price":351000},{"sf":2234,"price":502000},{"sf":2349,"price":614000},{"sf":2404,"price":386000},{"sf":2535,"price":279000},{"sf":2645,"price":467000},{"sf":2056,"price":252000},{"sf":2124,"price":243000},{"sf":2166,"price":270000},{"sf":2234,"price":267000},{"sf":2234,"price":243000},{"sf":2042,"price":200000},{"sf":1960,"price":177000},{"sf":1919,"price":171000},{"sf":2152,"price":138000},{"sf":1988,"price":300000},{"sf":2001,"price":306000},{"sf":1933,"price":332000},{"sf":1919,"price":349000},{"sf":1974,"price":378000},{"sf":2097,"price":380000},{"sf":2174,"price":381000},{"sf":1856,"price":279000},{"sf":1851,"price":258000},{"sf":1856,"price":240000},{"sf":1865,"price":225000},{"sf":1856,"price":216000},{"sf":1851,"price":189000},{"sf":1796,"price":217000},{"sf":1769,"price":189000},{"sf":1736,"price":183000},{"sf":1782,"price":171000},{"sf":1736,"price":144000},{"sf":1741,"price":132000},{"sf":1727,"price":123000},{"sf":1796,"price":138000},{"sf":1810,"price":150000},{"sf":1678,"price":162000},{"sf":1602,"price":123000},{"sf":1602,"price":108000},{"sf":1563,"price":144000},{"sf":1673,"price":198000},{"sf":1709,"price":210000},{"sf":1632,"price":294000},{"sf":1659,"price":324000},{"sf":1700,"price":333000},{"sf":1741,"price":318000},{"sf":1810,"price":309000},{"sf":1824,"price":321000},{"sf":1892,"price":318000},{"sf":1851,"price":333000},
{"sf":1350,"price":90000},{"sf":1450,"price":100000},{"sf":1500,"price":105000},{"sf":1550,"price":110000},{"sf":1400,"price":95000},{"sf":1300,"price":85000},{"sf":1200,"price":80000},{"sf":1100,"price":70000},{"sf":1000,"price":60000},{"sf":950,"price":58000},{"sf":1060,"price":72000},{"sf":1150,"price":78000},
{"sf":560,"price":210000},{"sf":620,"price":225000},{"sf":680,"price":250000},{"sf":760,"price":270000},{"sf":820,"price":290000},{"sf":880,"price":300000},{"sf":950,"price":310000},{"sf":1020,"price":320000},{"sf":1080,"price":310000},{"sf":1150,"price":300000},{"sf":1200,"price":295000},{"sf":1250,"price":290000},
{"sf":2400,"price":745000},{"sf":2450,"price":755000},{"sf":3082,"price":556400},{"sf":3202,"price":430200},{"sf":3202,"price":285100},{"sf":3133,"price":186700},{"sf":6114,"price":161200}
],
"histGrAll":[
{"start":334,"end":444.6,"count":1},{"start":444.6,"end":555.2,"count":2},{"start":555.2,"end":665.8,"count":8},{"start":665.8,"end":776.4,"count":26},{"start":776.4,"end":887,"count":112},{"start":887,"end":997.6,"count":125},{"start":997.6,"end":1108.2,"count":139},{"start":1108.2,"end":1218.8,"count":152},{"start":1218.8,"end":1329.4,"count":142},{"start":1329.4,"end":1440,"count":149},{"start":1440,"end":1550.6,"count":172},{"start":1550.6,"end":1661.2,"count":149},{"start":1661.2,"end":1771.8,"count":145},{"start":1771.8,"end":1882.4,"count":74},{"start":1882.4,"end":1993,"count":82},{"start":1993,"end":2103.6,"count":57},{"start":2103.6,"end":2214.2,"count":32},{"start":2214.2,"end":2324.8,"count":36},{"start":2324.8,"end":2435.4,"count":24},{"start":2435.4,"end":2546,"count":14},{"start":2546,"end":2656.6,"count":19},{"start":2656.6,"end":2767.2,"count":8},{"start":2767.2,"end":2877.8,"count":2},{"start":2877.8,"end":2988.4,"count":1},{"start":2988.4,"end":3099,"count":4},{"start":3099,"end":3209.6,"count":4},{"start":3209.6,"end":3320.2,"count":2},{"start":3320.2,"end":3430.8,"count":1},{"start":3430.8,"end":3541.4,"count":1},{"start":3541.4,"end":3652,"count":2},{"start":4315.6,"end":4426.2,"count":1},{"start":4426.2,"end":4536.8,"count":1},{"start":4647.4,"end":4758,"count":1},{"start":5531.4,"end":5642,"count":1}
],
"histGrTrim":[
{"start":334,"end":447.6,"count":1},{"start":447.6,"end":561.1,"count":2},{"start":561.1,"end":674.7,"count":10},{"start":674.7,"end":788.2,"count":27},{"start":788.2,"end":901.8,"count":118},{"start":901.8,"end":1015.3,"count":126},{"start":1015.3,"end":1128.9,"count":150},{"start":1128.9,"end":1242.4,"count":147},{"start":1242.4,"end":1356,"count":147},{"start":1356,"end":1469.5,"count":153},{"start":1469.5,"end":1583.1,"count":174},{"start":1583.1,"end":1696.6,"count":158},{"start":1696.6,"end":1810.2,"count":140},{"start":1810.2,"end":1923.7,"count":82},{"start":1923.7,"end":2037.3,"count":82},{"start":2037.3,"end":2150.8,"count":54},{"start":2150.8,"end":2264.4,"count":38},{"start":2264.4,"end":2377.9,"count":30},{"start":2377.9,"end":2491.5,"count":20},{"start":2491.5,"end":2605,"count":20},{"start":2605,"end":2718.6,"count":20},{"start":2718.6,"end":2832.1,"count":10},{"start":2832.1,"end":2945.7,"count":3},{"start":2945.7,"end":3059.2,"count":1},{"start":3059.2,"end":3172.8,"count":4},{"start":3172.8,"end":3286.3,"count":4},{"start":3286.3,"end":3399.9,"count":2},{"start":3399.9,"end":3513.4,"count":2},{"start":3513.4,"end":3627,"count":3}
],
"histBsAll":[
{"start":0,"end":122.2,"count":26},{"start":244.4,"end":366.6,"count":2},{"start":366.6,"end":488.8,"count":14},{"start":488.8,"end":611,"count":32},{"start":611,"end":733.2,"count":110},{"start":733.2,"end":855.4,"count":149},{"start":855.4,"end":977.6,"count":174},{"start":977.6,"end":1099.8,"count":140},{"start":1099.8,"end":1222,"count":94},{"start":1222,"end":1344.2,"count":71},{"start":1344.2,"end":1466.4,"count":71},{"start":1466.4,"end":1588.6,"count":60},{"start":1588.6,"end":1710.8,"count":40},{"start":1710.8,"end":1833,"count":20},{"start":1833,"end":1955.2,"count":16},{"start":1955.2,"end":2077.4,"count":6},{"start":2077.4,"end":2199.6,"count":4},{"start":2199.6,"end":2321.8,"count":2},{"start":2321.8,"end":2444,"count":2},{"start":2444,"end":2566.2,"count":1},{"start":2566.2,"end":2688.4,"count":1},{"start":3055,"end":3177.2,"count":2},{"start":3177.2,"end":3299.4,"count":2},{"start":5987.8,"end":6110,"count":1}
],
"histBsTrim":[
{"start":0,"end":85,"count":38},{"start":170,"end":255,"count":1},{"start":255,"end":340,"count":3},{"start":340,"end":425,"count":11},{"start":425,"end":510,"count":18},{"start":510,"end":595,"count":38},{"start":595,"end":680,"count":83},{"start":680,"end":765,"count":125},{"start":765,"end":850,"count":168},{"start":850,"end":935,"count":175},{"start":935,"end":1020,"count":145},{"start":1020,"end":1105,"count":138},{"start":1105,"end":1190,"count":93},{"start":1190,"end":1275,"count":96},{"start":1275,"end":1360,"count":55},{"start":1360,"end":1445,"count":76},{"start":1445,"end":1530,"count":65},{"start":1530,"end":1615,"count":48},{"start":1615,"end":1700,"count":45},{"start":1700,"end":1785,"count":31},{"start":1785,"end":1870,"count":21},{"start":1870,"end":1955,"count":12},{"start":1955,"end":2040,"count":7},{"start":2040,"end":2125,"count":7},{"start":2125,"end":2210,"count":3},{"start":2210,"end":2295,"count":1},{"start":2295,"end":2380,"count":1},{"start":2380,"end":2465,"count":1},{"start":2465,"end":2550,"count":1},{"start":2550,"end":2635,"count":1}
],
"histPriceAll":[
{"start":37800,"end":52200,"count":1},{"start":52200,"end":66600,"count":3},{"start":66600,"end":81000,"count":7},{"start":81000,"end":95400,"count":60},{"start":95400,"end":109800,"count":60},{"start":109800,"end":124200,"count":117},{"start":124200,"end":138600,"count":170},{"start":138600,"end":153000,"count":163},{"start":153000,"end":167400,"count":122},{"start":167400,"end":181800,"count":139},{"start":181800,"end":196200,"count":97},{"start":196200,"end":210600,"count":64},{"start":210600,"end":225000,"count":59},{"start":225000,"end":239400,"count":59},{"start":239400,"end":253800,"count":32},{"start":253800,"end":268200,"count":32},{"start":268200,"end":282600,"count":27},{"start":282600,"end":297000,"count":12},{"start":297000,"end":311400,"count":12},{"start":311400,"end":325800,"count":22},{"start":325800,"end":340200,"count":7},{"start":340200,"end":354600,"count":1},{"start":354600,"end":369000,"count":1},{"start":369000,"end":383400,"count":5},{"start":383400,"end":397800,"count":2},{"start":397800,"end":412200,"count":1},{"start":412200,"end":426600,"count":1},{"start":426600,"end":441000,"count":2},{"start":441000,"end":455400,"count":1},{"start":469800,"end":484200,"count":1},{"start":498600,"end":513000,"count":1},{"start":541800,"end":556200,"count":1},{"start":570600,"end":585000,"count":1},{"start":599400,"end":613800,"count":1},{"start":613800,"end":628200,"count":1},{"start":743400,"end":757800,"count":2}
],
"histPriceTrim":[
{"start":37200,"end":52000,"count":1},{"start":52000,"end":66800,"count":3},{"start":66800,"end":81600,"count":8},{"start":81600,"end":96400,"count":55},{"start":96400,"end":111200,"count":60},{"start":111200,"end":126000,"count":111},{"start":126000,"end":140800,"count":169},{"start":140800,"end":155600,"count":155},{"start":155600,"end":170400,"count":121},{"start":170400,"end":185200,"count":133},{"start":185200,"end":200000,"count":93},{"start":200000,"end":214800,"count":55},{"start":214800,"end":229600,"count":60},{"start":229600,"end":244400,"count":58},{"start":244400,"end":259200,"count":33},{"start":259200,"end":274000,"count":28},{"start":274000,"end":288800,"count":28},{"start":288800,"end":303600,"count":9},{"start":303600,"end":318400,"count":15},{"start":318400,"end":333200,"count":15},{"start":333200,"end":348000,"count":5},{"start":348000,"end":362800,"count":1},{"start":362800,"end":377600,"count":1},{"start":377600,"end":392400,"count":3},{"start":392400,"end":407200,"count":2},{"start":407200,"end":422000,"count":2},{"start":422000,"end":436800,"count":2},{"start":436800,"end":451600,"count":2},{"start":466400,"end":481200,"count":2},{"start":481200,"end":496000,"count":1},{"start":496000,"end":510800,"count":1},{"start":540400,"end":555200,"count":2},{"start":570000,"end":584800,"count":1},{"start":599600,"end":614400,"count":1},{"start":614400,"end":629200,"count":1}
],
"arrows":[
{"id":"A1","panel":1,"sf":4195,"price":732500,"sf2":4344,"price2":445000},
{"id":"A2","panel":1,"sf":5084,"price":731200,"sf2":4512,"price2":447000},
{"id":"A3","panel":1,"sf":4685,"price":200800,"sf2":4815,"price2":339700},
{"id":"A4","panel":1,"sf":5585,"price":174500,"sf2":5171,"price2":338800},
{"id":"B1","panel":3,"sf":2499,"price":720200,"sf2":3557,"price2":520500},
{"id":"B2","panel":3,"sf":2655,"price":729000,"sf2":3935,"price2":567100},
{"id":"B3","panel":3,"sf":6043,"price":183900,"sf2":4097,"price2":445900}
]
},
"columns":5,
"bounds":"flush",
"align":"each",
"spacing":{"row":13,"column":11},
"concat":[
  {"width":357,"height":63,"data":{"name":"histGrAll"},"mark":{"type":"rect","color":"#008FD5","opacity":0.4},
   "encoding":{"x":{"field":"start","type":"quantitative","scale":{"domain":[69,5907],"nice":false,"zero":false},"axis":{"title":null,"labels":false,"values":[1000,2000,3000,4000,5000]}},"x2":{"field":"end"},"y":{"field":"count","type":"quantitative","scale":{"domain":[0,186],"nice":false},"axis":null},"y2":{"datum":0}}},
  {"width":1,"height":1,"data":{"values":[]},"mark":"point","view":{"fill":null,"stroke":null}},
  {"width":59,"height":1,"data":{"values":[]},"mark":"point","view":{"fill":null,"stroke":null}},
  {"width":357,"height":63,"data":{"name":"histGrTrim"},"mark":{"type":"rect","color":"#008FD5","opacity":0.4},
   "encoding":{"x":{"field":"start","type":"quantitative","scale":{"domain":[169,3792],"nice":false,"zero":false},"axis":{"title":null,"labels":false,"values":[500,1000,1500,2000,2500,3000,3500]}},"x2":{"field":"end"},"y":{"field":"count","type":"quantitative","scale":{"domain":[0,186],"nice":false},"axis":null},"y2":{"datum":0}}},
  {"width":1,"height":1,"data":{"values":[]},"mark":"point","view":{"fill":null,"stroke":null}},

  {"width":357,"height":361,
    "encoding":{"x":{"field":"sf","type":"quantitative","scale":{"domain":[69,5907],"nice":false,"zero":false},"axis":{"title":"GrLivArea","values":[1000,2000,3000,4000,5000],"format":"d"}},"y":{"field":"price","type":"quantitative","scale":{"domain":[-1100,791100],"nice":false,"zero":false},"axis":{"title":"SalePrice","values":[0,100000,200000,300000,400000,500000,600000,700000],"format":"d"}}},
    "layer":[
     {"data":{"name":"grliv"},"mark":{"type":"circle","size":44,"color":"#008FD5","opacity":1}},
     {"data":{"values":[{"sf":179,"sf2":3716,"price":776400,"price2":732500}]},"mark":{"type":"rect","fill":"#F0F0F0","fillOpacity":0.8,"stroke":"#D6D6D6","strokeWidth":1,"cornerRadius":3},"encoding":{"x2":{"field":"sf2"},"y2":{"field":"price2"}}},
     {"data":{"values":[{"sf":3634,"price":756700,"label":"pearsonr = 0.71; p = 4.5e-223"}]},"mark":{"type":"text","align":"right","baseline":"middle","fontSize":11.3,"color":"#333333"},"encoding":{"text":{"field":"label"}}},
     {"data":{"name":"arrows"},"transform":[{"filter":"datum.panel == 1"}],"mark":{"type":"rule","color":"#FF0000","strokeWidth":2.2},"encoding":{"x2":{"field":"sf2"},"y2":{"field":"price2"}}},
     {"data":{"name":"arrows"},"transform":[{"filter":"datum.id == 'A1'"}],"mark":{"type":"point","shape":"triangle-up","angle":176,"size":90,"filled":true,"color":"#FF0000","opacity":1},"encoding":{"x":{"field":"sf2","type":"quantitative"},"y":{"field":"price2","type":"quantitative"}}},
     {"data":{"name":"arrows"},"transform":[{"filter":"datum.id == 'A2'"}],"mark":{"type":"point","shape":"triangle-up","angle":195,"size":90,"filled":true,"color":"#FF0000","opacity":1},"encoding":{"x":{"field":"sf2","type":"quantitative"},"y":{"field":"price2","type":"quantitative"}}},
     {"data":{"name":"arrows"},"transform":[{"filter":"datum.id == 'A3'"}],"mark":{"type":"point","shape":"triangle-up","angle":7,"size":90,"filled":true,"color":"#FF0000","opacity":1},"encoding":{"x":{"field":"sf2","type":"quantitative"},"y":{"field":"price2","type":"quantitative"}}},
     {"data":{"name":"arrows"},"transform":[{"filter":"datum.id == 'A4'"}],"mark":{"type":"point","shape":"triangle-up","angle":341,"size":90,"filled":true,"color":"#FF0000","opacity":1},"encoding":{"x":{"field":"sf2","type":"quantitative"},"y":{"field":"price2","type":"quantitative"}}},
     {"data":{"values":[{"sf":4808,"price":381400,"label":"outliers"}]},"mark":{"type":"text","align":"center","baseline":"alphabetic","font":"Liberation Sans","fontSize":29.5,"color":"#000000"},"encoding":{"text":{"field":"label"}}}
    ]},
  {"width":62,"height":361,"data":{"name":"histPriceAll"},"mark":{"type":"rect","color":"#008FD5","opacity":0.4},
    "encoding":{"y":{"field":"start","type":"quantitative","scale":{"domain":[-1100,791100],"nice":false,"zero":false},"axis":{"title":null,"labels":false,"values":[0,100000,200000,300000,400000,500000,600000,700000]}},"y2":{"field":"end"},"x":{"field":"count","type":"quantitative","scale":{"domain":[0,186],"nice":false},"axis":null},"x2":{"datum":0}}},
  {"width":59,"height":1,"data":{"values":[]},"mark":"point","view":{"fill":null,"stroke":null}},
  {"width":357,"height":361,
    "encoding":{"x":{"field":"sf","type":"quantitative","scale":{"domain":[169,3792],"nice":false,"zero":false},"axis":{"title":"GrLivArea","values":[500,1000,1500,2000,2500,3000,3500],"format":"d"}},"y":{"field":"price","type":"quantitative","scale":{"domain":[5400,654500],"nice":false,"zero":false},"axis":{"title":"SalePrice","values":[100000,200000,300000,400000,500000,600000],"format":"d"}}},
    "layer":[
     {"data":{"name":"grliv"},"transform":[{"filter":"datum.sf < 4000"}],"mark":{"type":"circle","size":44,"color":"#008FD5","opacity":1}},
     {"data":{"values":[{"sf":1540,"sf2":3728,"price":57000,"price2":17400}]},"mark":{"type":"rect","fill":"#F0F0F0","fillOpacity":0.8,"stroke":"#D6D6D6","strokeWidth":1,"cornerRadius":3},"encoding":{"x2":{"field":"sf2"},"y2":{"field":"price2"}}},
     {"data":{"values":[{"sf":3683,"price":37200,"label":"pearsonr = 0.72; p = 1.9e-233"}]},"mark":{"type":"text","align":"right","baseline":"middle","fontSize":11.3,"color":"#333333"},"encoding":{"text":{"field":"label"}}}
    ]},
  {"width":62,"height":361,"data":{"name":"histPriceTrim"},"mark":{"type":"rect","color":"#008FD5","opacity":0.4},
    "encoding":{"y":{"field":"start","type":"quantitative","scale":{"domain":[5400,654500],"nice":false,"zero":false},"axis":{"title":null,"labels":false,"values":[100000,200000,300000,400000,500000,600000]}},"y2":{"field":"end"},"x":{"field":"count","type":"quantitative","scale":{"domain":[0,186],"nice":false},"axis":null},"x2":{"datum":0}}},

  {"width":1,"height":26,"data":{"values":[]},"mark":"point","view":{"fill":null,"stroke":null}},
  {"width":1,"height":26,"data":{"values":[]},"mark":"point","view":{"fill":null,"stroke":null}},
  {"width":59,"height":26,"data":{"values":[]},"mark":"point","view":{"fill":null,"stroke":null}},
  {"width":1,"height":26,"data":{"values":[]},"mark":"point","view":{"fill":null,"stroke":null}},
  {"width":1,"height":26,"data":{"values":[]},"mark":"point","view":{"fill":null,"stroke":null}},

  {"width":357,"height":63,"data":{"name":"histBsAll"},"mark":{"type":"rect","color":"#008FD5","opacity":0.4},
   "encoding":{"x":{"field":"start","type":"quantitative","scale":{"domain":[-305,6415],"nice":false,"zero":false},"axis":{"title":null,"labels":false,"values":[0,1000,2000,3000,4000,5000,6000]}},"x2":{"field":"end"},"y":{"field":"count","type":"quantitative","scale":{"domain":[0,186],"nice":false},"axis":null},"y2":{"datum":0}}},
  {"width":1,"height":1,"data":{"values":[]},"mark":"point","view":{"fill":null,"stroke":null}},
  {"width":59,"height":1,"data":{"values":[]},"mark":"point","view":{"fill":null,"stroke":null}},
  {"width":357,"height":63,"data":{"name":"histBsTrim"},"mark":{"type":"rect","color":"#008FD5","opacity":0.4},
   "encoding":{"x":{"field":"start","type":"quantitative","scale":{"domain":[-135,2780],"nice":false,"zero":false},"axis":{"title":null,"labels":false,"values":[0,500,1000,1500,2000,2500]}},"x2":{"field":"end"},"y":{"field":"count","type":"quantitative","scale":{"domain":[0,186],"nice":false},"axis":null},"y2":{"datum":0}}},
  {"width":1,"height":1,"data":{"values":[]},"mark":"point","view":{"fill":null,"stroke":null}},

  {"width":357,"height":361,
    "encoding":{"x":{"field":"sf","type":"quantitative","scale":{"domain":[-305,6415],"nice":false,"zero":false},"axis":{"title":"TotalBsmtSF","values":[0,1000,2000,3000,4000,5000,6000],"format":"d"}},"y":{"field":"price","type":"quantitative","scale":{"domain":[-1100,791100],"nice":false,"zero":false},"axis":{"title":"SalePrice","values":[0,100000,200000,300000,400000,500000,600000,700000],"format":"d"}}},
    "layer":[
     {"data":{"name":"bsmt"},"mark":{"type":"circle","size":44,"color":"#008FD5","opacity":1}},
     {"data":{"values":[{"sf":2204,"sf2":6282,"price":57500,"price2":13600}]},"mark":{"type":"rect","fill":"#F0F0F0","fillOpacity":0.8,"stroke":"#D6D6D6","strokeWidth":1,"cornerRadius":3},"encoding":{"x2":{"field":"sf2"},"y2":{"field":"price2"}}},
     {"data":{"values":[{"sf":6182,"price":35500,"label":"pearsonr = 0.61; p = 9.5e-152"}]},"mark":{"type":"text","align":"right","baseline":"middle","fontSize":11.3,"color":"#333333"},"encoding":{"text":{"field":"label"}}},
     {"data":{"name":"arrows"},"transform":[{"filter":"datum.panel == 3"}],"mark":{"type":"rule","color":"#FF0000","strokeWidth":2.2},"encoding":{"x2":{"field":"sf2"},"y2":{"field":"price2"}}},
     {"data":{"name":"arrows"},"transform":[{"filter":"datum.id == 'B1'"}],"mark":{"type":"point","shape":"triangle-up","angle":148,"size":90,"filled":true,"color":"#FF0000","opacity":1},"encoding":{"x":{"field":"sf2","type":"quantitative"},"y":{"field":"price2","type":"quantitative"}}},
     {"data":{"name":"arrows"},"transform":[{"filter":"datum.id == 'B2'"}],"mark":{"type":"point","shape":"triangle-up","angle":137,"size":90,"filled":true,"color":"#FF0000","opacity":1},"encoding":{"x":{"field":"sf2","type":"quantitative"},"y":{"field":"price2","type":"quantitative"}}},
     {"data":{"name":"arrows"},"transform":[{"filter":"datum.id == 'B3'"}],"mark":{"type":"point","shape":"triangle-up","angle":319,"size":90,"filled":true,"color":"#FF0000","opacity":1},"encoding":{"x":{"field":"sf2","type":"quantitative"},"y":{"field":"price2","type":"quantitative"}}},
     {"data":{"values":[{"sf":4479,"price":475800,"label":"outliers"}]},"mark":{"type":"text","align":"center","baseline":"alphabetic","font":"Liberation Sans","fontSize":29.5,"color":"#000000"},"encoding":{"text":{"field":"label"}}}
    ]},
  {"width":62,"height":361,"data":{"name":"histPriceAll"},"mark":{"type":"rect","color":"#008FD5","opacity":0.4},
    "encoding":{"y":{"field":"start","type":"quantitative","scale":{"domain":[-1100,791100],"nice":false,"zero":false},"axis":{"title":null,"labels":false,"values":[0,100000,200000,300000,400000,500000,600000,700000]}},"y2":{"field":"end"},"x":{"field":"count","type":"quantitative","scale":{"domain":[0,186],"nice":false},"axis":null},"x2":{"datum":0}}},
  {"width":59,"height":1,"data":{"values":[]},"mark":"point","view":{"fill":null,"stroke":null}},
  {"width":357,"height":361,
    "encoding":{"x":{"field":"sf","type":"quantitative","scale":{"domain":[-135,2780],"nice":false,"zero":false},"axis":{"title":"TotalBsmtSF","values":[0,500,1000,1500,2000,2500],"format":"d"}},"y":{"field":"price","type":"quantitative","scale":{"domain":[5400,654500],"nice":false,"zero":false},"axis":{"title":"SalePrice","values":[100000,200000,300000,400000,500000,600000],"format":"d"}}},
    "layer":[
     {"data":{"name":"bsmt"},"transform":[{"filter":"datum.sf < 3000 && datum.price < 700000"}],"mark":{"type":"circle","size":44,"color":"#008FD5","opacity":1}},
     {"data":{"values":[{"sf":-83,"sf2":1604,"price":645500,"price2":610800}]},"mark":{"type":"rect","fill":"#F0F0F0","fillOpacity":0.8,"stroke":"#D6D6D6","strokeWidth":1,"cornerRadius":3},"encoding":{"x2":{"field":"sf2"},"y2":{"field":"price2"}}},
     {"data":{"values":[{"sf":1555,"price":629300,"label":"pearsonr = 0.64; p = 2e-167"}]},"mark":{"type":"text","align":"right","baseline":"middle","fontSize":11.3,"color":"#333333"},"encoding":{"text":{"field":"label"}}}
    ]},
  {"width":62,"height":361,"data":{"name":"histPriceTrim"},"mark":{"type":"rect","color":"#008FD5","opacity":0.4},
    "encoding":{"y":{"field":"start","type":"quantitative","scale":{"domain":[5400,654500],"nice":false,"zero":false},"axis":{"title":null,"labels":false,"values":[100000,200000,300000,400000,500000,600000]}},"y2":{"field":"end"},"x":{"field":"count","type":"quantitative","scale":{"domain":[0,186],"nice":false},"axis":null},"x2":{"datum":0}}}
]
}
